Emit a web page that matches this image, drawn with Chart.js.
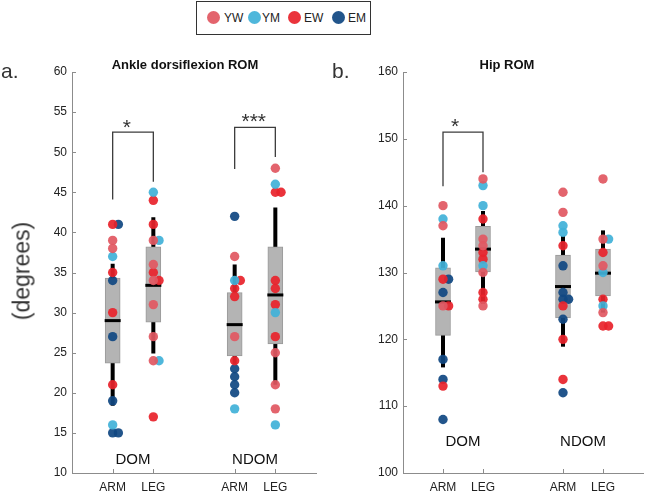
<!DOCTYPE html>
<html lang="en">
<head>
<meta charset="utf-8">
<title>Ankle and hip ROM</title>
<script src="https://cdn.jsdelivr.net/npm/chart.js"></script>
<style>
  body { margin: 0; background: #fff; font-family: 'Liberation Sans', Arial, sans-serif; }
  #wrap { position: relative; width: 654px; height: 493px; overflow: hidden; }
  .panel { position: absolute; top: 0; width: 327px; height: 493px; }
  #panelA { left: 0; }
  #panelB { left: 327px; }
  .txt { position: absolute; color: #222; white-space: nowrap; }
  .title { font-weight: bold; font-size: 13px; top: 57px; transform: translateX(-50%); color: #111; }
  .tag { font-size: 21px; top: 59px; color: #333; }
  #ylab { left: 22px; top: 271px; font-size: 23px; color: #333; transform: translate(-50%, -50%) rotate(-90deg); }
  #legend { position: absolute; left: 196px; top: 1px; width: 175px; height: 34px; box-sizing: border-box;
            border: 1.5px solid #333; background: #fff; }
  #legend .dot { position: absolute; top: 9px; width: 13px; height: 13px; border-radius: 50%; }
  #legend .lab { position: absolute; top: 9px; font-size: 12px; color: #222; }
</style>
</head>
<body>
<div id="wrap">
  <div class="panel" id="panelA"><canvas id="ankleChart" width="327" height="493"></canvas></div>
  <div class="panel" id="panelB"><canvas id="hipChart" width="327" height="493"></canvas></div>

  <div class="txt tag" style="left:1px">a.</div>
  <div class="txt tag" style="left:332px">b.</div>
  <div class="txt title" style="left:185px">Ankle dorsiflexion ROM</div>
  <div class="txt title" style="left:507px">Hip ROM</div>
  <div class="txt" id="ylab">(degrees)</div>
  <div id="legend"></div>
</div>

<script>
// subject groups
const groupNames = ['YW', 'YM', 'EW', 'EM'];
const groupColors = ['rgba(225,88,98,0.93)', 'rgba(66,178,216,0.93)', 'rgba(232,36,44,0.93)', 'rgba(17,72,130,0.93)'];

// conditions: DOM ARM, DOM LEG, NDOM ARM, NDOM LEG
const xPos = [1, 2, 4, 5];
const xTickLabels = ['ARM', 'LEG', 'ARM', 'LEG'];
const sideNames = ['DOM', 'NDOM'];
const sideX = [1.5, 4.5];

// ankle dorsiflexion, one list per condition
const ankleYW = [[39, 38], [39, 36, 34, 31, 27, 24], [37, 27], [48, 25, 21, 18]];
const ankleYM = [[37, 16], [45, 39, 24], [34, 18], [46, 30, 16]];
const ankleEW = [[41, 35, 30, 21], [44, 41, 35, 34, 17], [34, 33, 32, 24], [45, 45, 34, 33, 31, 27]];
const ankleEM = [[41, 34, 27, 19, 15, 15], [], [42, 23, 22, 21, 20], []];
const ankleQ1 = [23.7, 28.8, 24.6, 26.1];
const ankleMedian = [29.0, 33.4, 28.5, 32.2];
const ankleQ3 = [34.3, 38.2, 32.5, 38.2];
const ankleWhiskLow = [18.4, 24.9, 23.6, 21.0];
const ankleWhiskHigh = [36.1, 41.9, 36.0, 43.1];
const ankleBracketX = [[1, 2], [4, 5]];
const ankleBracketEnds = [[44.1, 46.3], [47.9, 49.4]];
const ankleBracketTop = [52.5, 53.1];
const ankleStars = ['*', '***'];
const ankleStarX = [1.35, 4.47];
const ankleStarY = [53.8, 54.5];
const ankleSideY = 11.6;

// hip, one list per condition
const hipYW = [[140, 137, 125], [144, 135, 134, 130, 125], [142, 139], [144, 135, 131, 124]];
const hipYM = [[138, 131], [143, 140, 131], [137, 136], [135, 130, 125]];
const hipEW = [[129, 125, 113], [138, 133, 132, 127, 126], [134, 125, 120, 114], [133, 126, 122, 122]];
const hipEM = [[129, 127, 117, 114, 108], [], [131, 127, 126, 126, 123, 112], []];
const hipQ1 = [120.6, 130.1, 123.2, 126.5];
const hipMedian = [125.6, 133.5, 127.9, 129.9];
const hipQ3 = [130.7, 136.9, 132.6, 133.5];
const hipWhiskLow = [115.8, 125.3, 118.9, 124.0];
const hipWhiskHigh = [135.2, 139.2, 135.5, 136.3];
const hipBracketX = [[1, 2]];
const hipBracketEnds = [[142.9, 145.0]];
const hipBracketTop = [151.0];
const hipStars = ['*'];
const hipStarX = [1.3];
const hipStarY = [152.6];
const hipSideY = 104.6;

// legend
const legendDotX = [10, 51, 91, 135];
const legendLabX = [27, 65, 107, 151];
const legendEl = document.getElementById('legend');
groupNames.forEach((g, i) => {
  legendEl.insertAdjacentHTML('beforeend',
    `<span class="dot" style="left:${legendDotX[i]}px;background:${groupColors[i]}"></span>` +
    `<span class="lab" style="left:${legendLabX[i]}px">${g}</span>`);
});

// inward tick marks like the original figure
const inwardTicks = {
  id: 'inwardTicks',
  afterDraw(chart) {
    const { ctx, chartArea, scales } = chart;
    ctx.save();
    ctx.strokeStyle = '#8c8c8c';
    ctx.lineWidth = 1;
    ctx.beginPath();
    scales.y.ticks.forEach(t => {
      const y = Math.round(scales.y.getPixelForValue(t.value)) + 0.5;
      ctx.moveTo(chartArea.left, y);
      ctx.lineTo(chartArea.left + 4, y);
    });
    scales.x.ticks.forEach(t => {
      const x = Math.round(scales.x.getPixelForValue(t.value)) + 0.5;
      ctx.moveTo(x, chartArea.bottom);
      ctx.lineTo(x, chartArea.bottom - 4);
    });
    ctx.stroke();
    ctx.restore();
  }
};

// stars and DOM / NDOM labels
const notes = {
  id: 'notes',
  afterDatasetsDraw(chart, args, opts) {
    const { ctx, scales } = chart;
    ctx.save();
    ctx.textAlign = 'center';
    ctx.fillStyle = '#111';
    ctx.font = '15px "Liberation Sans", Arial, sans-serif';
    ctx.textBaseline = 'middle';
    sideNames.forEach((s, i) => {
      ctx.fillText(s, scales.x.getPixelForValue(sideX[i]), scales.y.getPixelForValue(opts.sideY));
    });
    ctx.font = '21px "Liberation Sans", Arial, sans-serif';
    ctx.fillStyle = '#333';
    ctx.textBaseline = 'alphabetic';
    opts.stars.forEach((s, i) => {
      ctx.fillText(s, scales.x.getPixelForValue(opts.starX[i]), scales.y.getPixelForValue(opts.starY[i]) + 12);
    });
    ctx.restore();
  }
};

function buildPoints(lists) {
  // small sideways shift for points that sit on top of each other
  const placed = [[], [], [], []];
  return lists.map(groupLists => groupLists.map((vals, ci) => vals.map(v => {
    const k = placed[ci].filter(p => Math.abs(p - v) < 0.9).length;
    placed[ci].push(v);
    const dx = k === 0 ? 0 : (k % 2 ? 0.14 : -0.14) * Math.ceil(k / 2);
    return { x: xPos[ci] + dx, y: v };
  })).flat());
}

function makePanel(id, d) {
  const datasets = [];
  buildPoints(d.groups).forEach((pts, gi) => {
    datasets.push({
      type: 'scatter', data: pts, order: 0,
      backgroundColor: groupColors[gi], borderWidth: 0, pointRadius: 4.7
    });
  });
  datasets.push({
    type: 'scatter', order: 1,
    data: xPos.map((x, i) => ({ x, y: d.median[i] })),
    pointStyle: 'line', pointRadius: 8, borderColor: '#000', borderWidth: 3
  });
  datasets.push({
    type: 'bar', order: 2,
    data: xPos.map((x, i) => ({ x, y: [d.q1[i], d.q3[i]] })),
    backgroundColor: '#b4b4b4', borderColor: '#9a9a9a', borderWidth: 1,
    borderSkipped: false, barThickness: 15, grouped: false
  });
  xPos.forEach((x, i) => {
    datasets.push({
      type: 'line', order: 3,
      data: [{ x, y: d.whiskLow[i] }, { x, y: d.whiskHigh[i] }],
      borderColor: '#000', borderWidth: 4, pointRadius: 0, borderCapStyle: 'butt'
    });
  });
  d.bracketX.forEach((bx, i) => {
    datasets.push({
      type: 'line', order: 4,
      data: [{ x: bx[0], y: d.bracketEnds[i][0] }, { x: bx[0], y: d.bracketTop[i] },
             { x: bx[1], y: d.bracketTop[i] }, { x: bx[1], y: d.bracketEnds[i][1] }],
      borderColor: '#3c3c3c', borderWidth: 1.3, pointRadius: 0, tension: 0
    });
  });

  return new Chart(document.getElementById(id), {
    type: 'scatter',
    data: { datasets },
    plugins: [inwardTicks, notes],
    options: {
      responsive: false,
      animation: false,
      events: [],
      layout: { padding: { top: 72, left: 0, right: d.padRight, bottom: 0 } },
      plugins: {
        legend: { display: false },
        tooltip: { enabled: false },
        notes: { stars: d.stars, starX: d.starX, starY: d.starY, sideY: d.sideY }
      },
      scales: {
        x: {
          type: 'linear', min: 0, max: 6, offset: false,
          grid: { display: false, drawTicks: false },
          border: { color: '#8c8c8c', width: 1 },
          afterBuildTicks: s => { s.ticks = xPos.map(v => ({ value: v })); },
          afterFit: s => { s.height = 20; },
          ticks: {
            callback: v => xTickLabels[xPos.indexOf(v)],
            color: '#222', font: { size: 12, family: '"Liberation Sans", Arial' },
            padding: 7, maxRotation: 0, autoSkip: false
          }
        },
        y: {
          min: d.yMin, max: d.yMax,
          grid: { display: false, drawTicks: false },
          border: { color: '#8c8c8c', width: 1 },
          afterFit: s => { s.width = d.yWidth; },
          ticks: {
            stepSize: d.yStep, color: '#222',
            font: { size: 12, family: '"Liberation Sans", Arial' }, padding: 5
          }
        }
      }
    }
  });
}

makePanel('ankleChart', {
  groups: [ankleYW, ankleYM, ankleEW, ankleEM],
  q1: ankleQ1, median: ankleMedian, q3: ankleQ3,
  whiskLow: ankleWhiskLow, whiskHigh: ankleWhiskHigh,
  bracketX: ankleBracketX, bracketEnds: ankleBracketEnds, bracketTop: ankleBracketTop,
  stars: ankleStars, starX: ankleStarX, starY: ankleStarY, sideY: ankleSideY,
  yMin: 10, yMax: 60, yStep: 5, yWidth: 72, padRight: 4
});

makePanel('hipChart', {
  groups: [hipYW, hipYM, hipEW, hipEM],
  q1: hipQ1, median: hipMedian, q3: hipQ3,
  whiskLow: hipWhiskLow, whiskHigh: hipWhiskHigh,
  bracketX: hipBracketX, bracketEnds: hipBracketEnds, bracketTop: hipBracketTop,
  stars: hipStars, starX: hipStarX, starY: hipStarY, sideY: hipSideY,
  yMin: 100, yMax: 160, yStep: 10, yWidth: 76, padRight: 1
});
</script>
</body>
</html>
